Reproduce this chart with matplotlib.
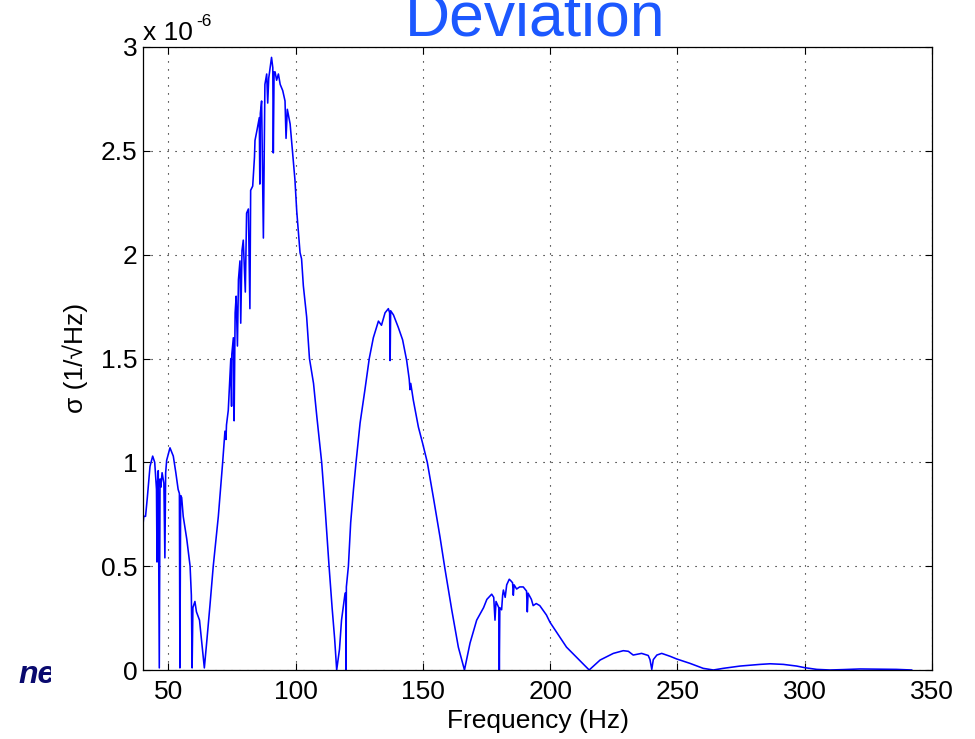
import matplotlib
matplotlib.use('Agg')
import matplotlib.pyplot as plt
from matplotlib.ticker import FuncFormatter
from matplotlib.transforms import Bbox

# frequency (Hz) and sigma (in units of 1e-6 1/sqrt(Hz))
freq = [40.0, 40.3, 41.0, 41.7, 42.2, 42.75, 43.8, 44.6, 45.3, 45.5, 45.7, 46.0, 46.4, 46.7,
        47.0, 47.5, 48.2, 48.6, 48.9, 49.3, 50.6, 51.9, 52.9, 53.8, 54.3, 54.5, 54.8, 55.2,
        55.8, 57.2, 58.5, 59.0, 59.3, 59.6, 60.4, 61.0, 62.2, 63.1, 64.1, 65.0, 66.3, 67.6,
        69.6, 70.2, 71.3, 72.2, 72.6, 72.8, 73.5, 74.5, 74.8, 74.9, 75.5, 75.8, 76.2, 76.6,
        77.1, 77.5, 78.1, 78.4, 78.9, 79.4, 80.2, 80.7, 81.4, 82.0, 82.3, 83.1, 83.8, 84.0,
        84.8, 85.7, 85.9, 86.1, 86.6, 87.3, 87.9, 88.6, 89.0, 89.4, 90.5, 91.0, 91.2, 91.5,
        91.9, 92.5, 93.2, 93.9, 94.9, 95.8, 96.2, 96.7, 97.8, 98.8, 99.7, 100.4, 101.7,
        102.3, 103.0, 104.3, 105.4, 107.0, 108.3, 110.2, 111.6, 113.1, 114.3, 115.3, 116.1,
        117.2, 118.0, 119.4, 119.7, 119.8, 119.9, 120.7, 121.6, 122.7, 123.7, 125.3, 127.2,
        128.9, 130.5, 132.5, 133.7, 135.1, 136.4, 136.9, 137.1, 137.3, 138.4, 140.3, 142.0,
        143.6, 144.6, 144.9, 145.2, 146.2, 148.2, 149.9, 151.7, 154.1, 156.7, 158.6, 161.3,
        163.9, 166.3, 168.5, 171.1, 173.8, 175.1, 177.0, 177.8, 178.3, 178.7, 179.8, 180.0,
        180.2, 180.9, 181.3, 181.6, 182.3, 182.9, 183.9, 184.5, 185.2, 185.5, 185.8, 186.8,
        188.0, 189.4, 190.7, 191.0, 191.3, 192.6, 193.3, 194.5, 195.9, 198.5, 199.9, 206.4,
        215.3, 219.6, 224.8, 228.7, 230.7, 232.6, 235.9, 238.5, 239.2, 239.9, 240.5, 241.9,
        243.8, 247.1, 249.7, 254.9, 260.1, 264.1, 268.0, 274.6, 282.4, 286.4, 291.6, 296.8,
        300.1, 304.7, 309.9, 315.2, 321.7, 330.9, 336.0, 342.0]
sigma = [0.70, 0.74, 0.74, 0.83, 0.90, 0.98, 1.03, 1.00, 0.87, 0.52, 0.90, 0.96, 0.01, 0.92,
         0.88, 0.95, 0.90, 0.54, 0.95, 1.01, 1.07, 1.03, 0.95, 0.87, 0.85, 0.01, 0.84, 0.83,
         0.74, 0.63, 0.50, 0.36, 0.01, 0.30, 0.33, 0.28, 0.24, 0.13, 0.01, 0.13, 0.31, 0.50,
         0.74, 0.83, 1.00, 1.15, 1.11, 1.18, 1.25, 1.50, 1.27, 1.52, 1.60, 1.20, 1.72, 1.80,
         1.56, 1.88, 1.97, 1.67, 2.02, 2.07, 1.82, 2.20, 2.22, 1.74, 2.31, 2.33, 2.47, 2.55,
         2.60, 2.66, 2.34, 2.68, 2.74, 2.08, 2.82, 2.87, 2.73, 2.85, 2.95, 2.90, 2.49, 2.88,
         2.88, 2.84, 2.87, 2.82, 2.79, 2.74, 2.56, 2.70, 2.63, 2.49, 2.36, 2.21, 2.01,
         1.98, 1.85, 1.70, 1.50, 1.38, 1.22, 1.00, 0.77, 0.50, 0.30, 0.15, 0.00,
         0.10, 0.24, 0.37, 0.37, 0.00, 0.40, 0.50, 0.71, 0.87, 1.00, 1.19, 1.35,
         1.50, 1.60, 1.68, 1.66, 1.72, 1.74, 1.72, 1.49, 1.73, 1.71, 1.65, 1.59,
         1.49, 1.40, 1.35, 1.38, 1.30, 1.17, 1.09, 1.00, 0.83, 0.64, 0.49, 0.29,
         0.11, 0.00, 0.13, 0.24, 0.30, 0.34, 0.365, 0.35, 0.24, 0.33, 0.30, 0.00,
         0.30, 0.29, 0.36, 0.385, 0.35, 0.41, 0.437, 0.43, 0.42, 0.36, 0.41, 0.39,
         0.40, 0.40, 0.38, 0.28, 0.37, 0.34, 0.31, 0.32, 0.31, 0.265, 0.23, 0.11,
         0.00, 0.048, 0.08, 0.093, 0.09, 0.072, 0.08, 0.07, 0.05, 0.003, 0.05, 0.072,
         0.08, 0.066, 0.053, 0.032, 0.008, 0.00, 0.008, 0.019, 0.027, 0.03, 0.027, 0.019,
         0.011, 0.003, 0.00, 0.002, 0.005, 0.004, 0.003, 0.00]

xticks = [50, 100, 150, 200, 250, 300, 350]
yticks = [0, 0.5, 1, 1.5, 2, 2.5, 3]
scale = 1e-6

plt.rcParams['font.family'] = ['Liberation Sans', 'DejaVu Sans']

fig = plt.figure(figsize=(9.75, 7.39), dpi=100)
ax = fig.add_axes([143 / 975, 69 / 739, 789 / 975, 623 / 739])

ax.plot(freq, [s * scale for s in sigma], color='#0000ff', lw=1.15)

ax.set_xlim(40, 350)
ax.set_ylim(0, 3 * scale)
ax.set_xticks(xticks)
ax.set_yticks([t * scale for t in yticks])
ax.yaxis.set_major_formatter(FuncFormatter(lambda v, p: '%g' % round(v / scale, 3)))

ax.grid(True, color='k', linestyle=(0, (1, 6.2)), linewidth=0.8)
ax.tick_params(direction='in', length=5, width=0.8, top=True, right=True, labelsize=19)
ax.tick_params(axis='x', pad=7)
ax.tick_params(axis='y', pad=4)
for sp in ax.spines.values():
    sp.set_linewidth(0.9)

# MATLAB style exponent label
fig.text(143 / 975, 1 - 40 / 739, 'x 10', fontsize=19, va='baseline')
fig.text(196 / 975, 1 - 26 / 739, '-6', fontsize=12.5, va='baseline')

fig.text(538 / 975, 1 - 721 / 739, 'Frequency (Hz)', fontsize=19, ha='center', va='center')
fig.text(75 / 975, 1 - 358 / 739, 'σ (1/√Hz)', fontsize=19, ha='center', va='center',
         rotation=90)

# title runs off the top edge in the reference too
fig.text(535 / 975, 1 - 35 / 739, 'Deviation', fontsize=45, color='#1c58ff',
         ha='center', va='baseline')

# leftover of slide text behind the figure
t = fig.text(18 / 975, 1 - 683 / 739, 'ne', fontsize=23, color='#0a0a6e',
             fontweight='bold', fontstyle='italic', va='baseline')
t.set_clip_box(Bbox.from_extents(0, 0, 51, 739))
t.set_clip_on(True)

fig.savefig('out.png', dpi=100)
